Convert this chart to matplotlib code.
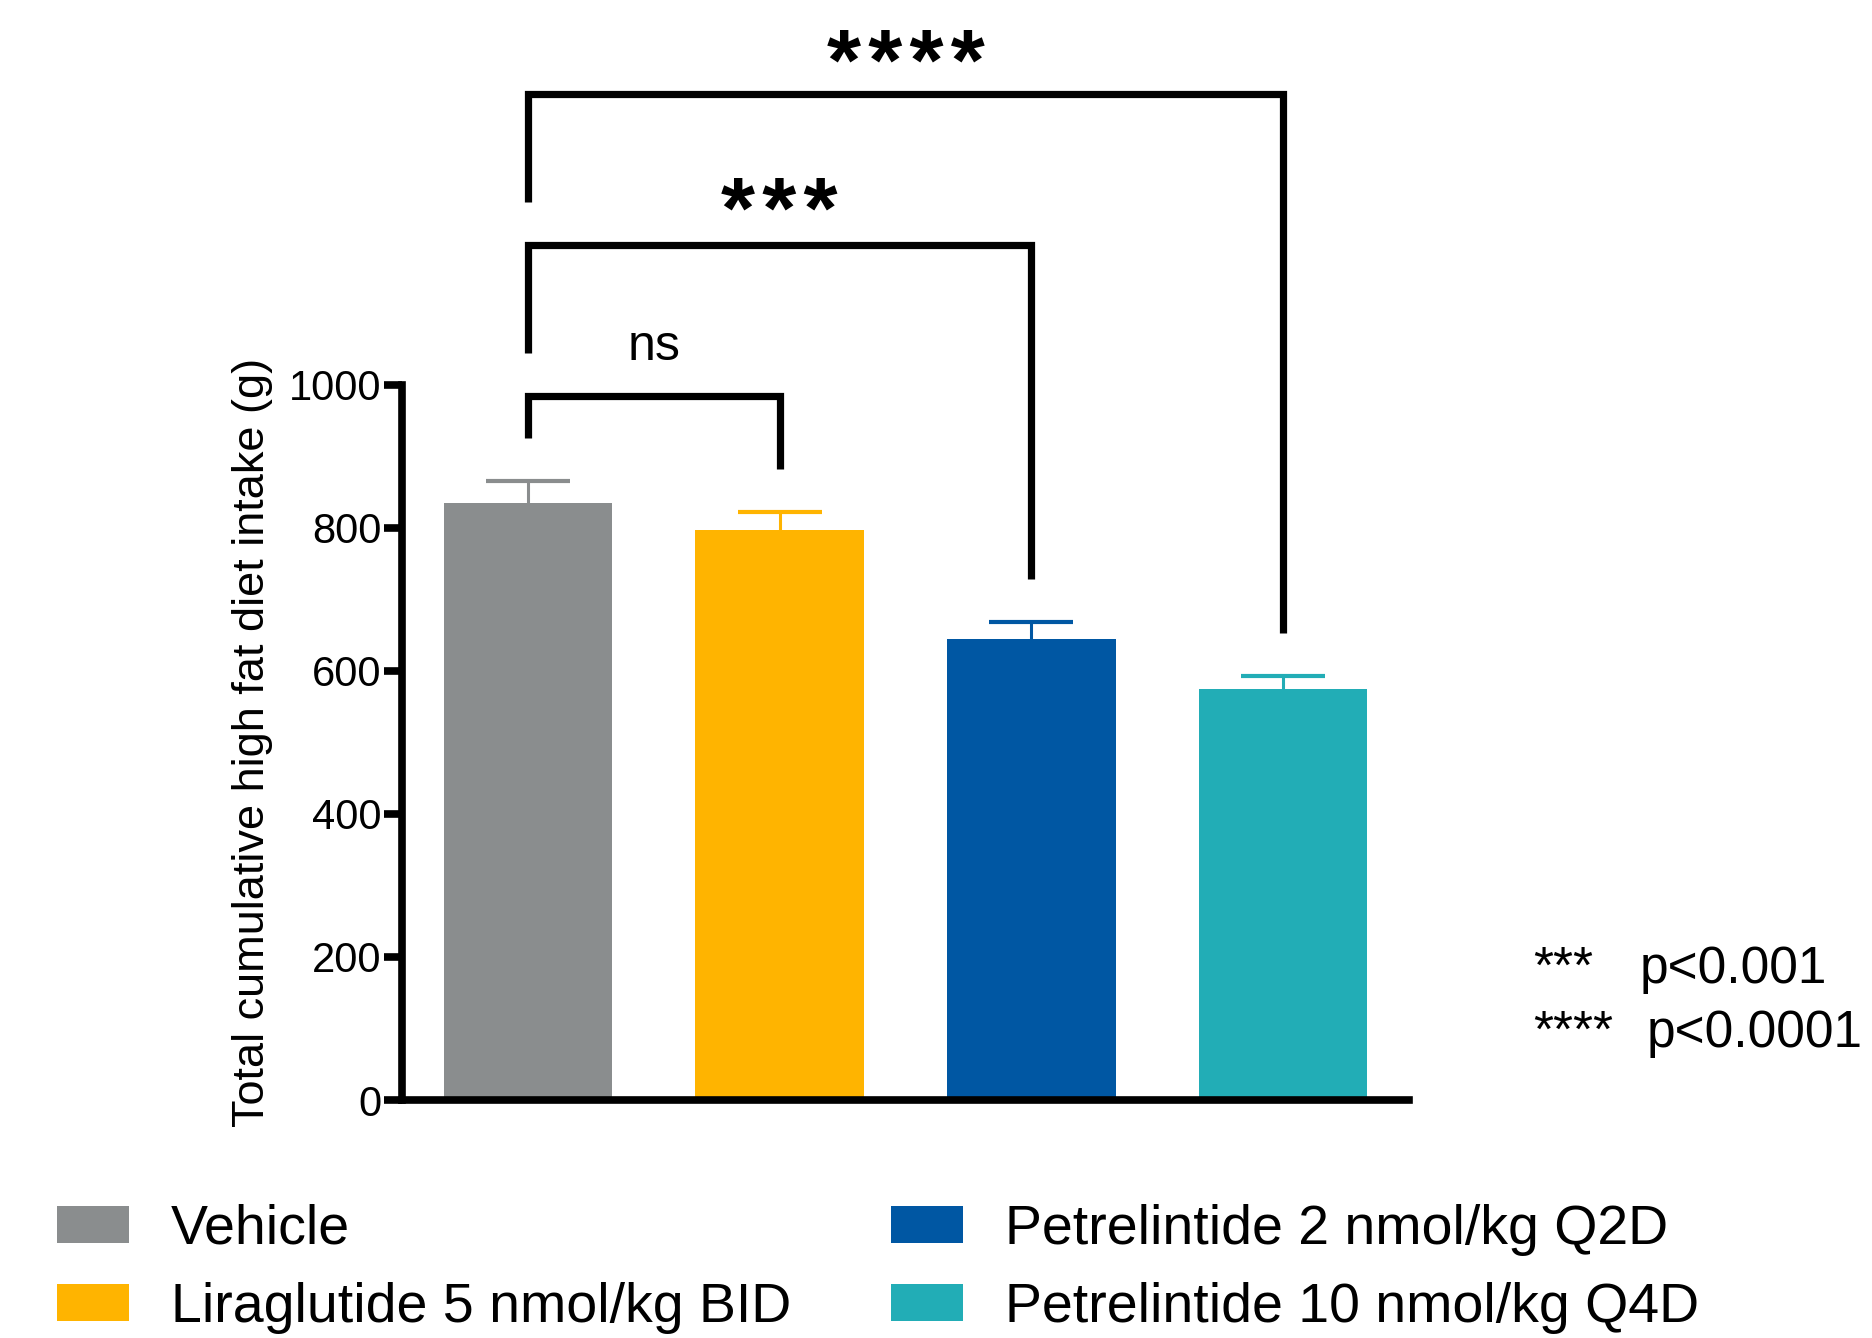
import matplotlib
matplotlib.use("Agg")
import matplotlib.pyplot as plt
import numpy as np

plt.rcParams['font.family'] = ['Liberation Sans', 'DejaVu Sans']

groups = ["Vehicle", "Liraglutide 5 nmol/kg BID",
          "Petrelintide 2 nmol/kg Q2D", "Petrelintide 10 nmol/kg Q4D"]
means = [834, 797, 645, 575]
sems = [31, 25, 23, 18]
colors = ["#8a8d8e", "#ffb400", "#0057a3", "#22adb6"]
y_ticks = [0, 200, 400, 600, 800, 1000]
y_label = "Total cumulative high fat diet intake (g)"

# significance brackets: (group a, group b, height, left foot, right foot, label, label baseline)
brackets = [
    (0, 1, 984, 925, 882, "ns", 1034),
    (0, 2, 1195, 1044, 728, "***", 1205),
    (0, 3, 1406, 1255, 653, "****", 1412),
]
p_legend = [("***", "p<0.001"), ("****", "p<0.0001")]

W, H = 1872, 1338
fig = plt.figure(figsize=(W / 100, H / 100), dpi=100)
ax = fig.add_axes([402 / W, 1 - 1100 / H, 1007 / W, (1100 - 384.5) / H])

x = np.arange(len(groups))
bars = ax.bar(x, means, width=0.67, color=colors, zorder=2)
for xi, m, s, c in zip(x, means, sems, colors):
    _, caps, _ = ax.errorbar(xi, m, yerr=[[0], [s]], fmt='none', ecolor=c,
                             elinewidth=2.2, capsize=30, capthick=3, zorder=3)
    caps[0].set_visible(False)

ax.set_xlim(-0.5, 3.5)
ax.set_ylim(0, 1000)
ax.set_yticks(y_ticks)
ax.set_xticks([])
ax.tick_params(axis='y', labelsize=30, width=5.5, length=13, pad=2)
for side in ['top', 'right']:
    ax.spines[side].set_visible(False)
for side in ['left', 'bottom']:
    ax.spines[side].set_linewidth(5.5)
    ax.spines[side].set_zorder(4)
ax.set_ylabel(y_label, fontsize=32.5, labelpad=11)

hs = "\u200a"
for a, b, h, fa, fb, lab, yb in brackets:
    ax.plot([a, a, b, b], [fa, h, h, fb], color='black', lw=5.2,
            solid_joinstyle='miter', solid_capstyle='butt', clip_on=False, zorder=5)
    if lab == "ns":
        ax.text((a + b) / 2, yb, lab, ha='center', va='baseline', fontsize=36)
    else:
        ax.text((a + b) / 2, yb, hs.join(lab), ha='center', va='baseline',
                fontsize=63, fontweight='bold')

# p-value key
for (stars, ptxt), yb, px in zip(p_legend, [983, 1047], [1640, 1647]):
    fig.text(1533 / W, 1 - yb / H, stars, ha='left', va='baseline', fontsize=37)
    fig.text(px / W, 1 - yb / H, ptxt, ha='left', va='baseline', fontsize=37)

fig.legend(handles=list(bars), labels=groups, loc='upper left',
           bbox_to_anchor=(57 / W, 1 - 1204 / H), ncol=2, frameon=False,
           fontsize=40, handlelength=1.3, handleheight=0.64, handletextpad=0.75,
           columnspacing=1.8, labelspacing=0.47, borderpad=0, borderaxespad=0)

fig.savefig("out.png", dpi=100)
